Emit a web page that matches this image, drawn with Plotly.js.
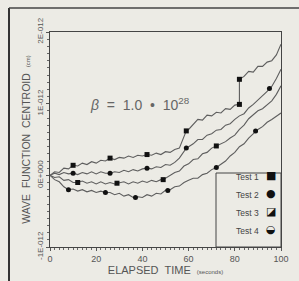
<!DOCTYPE html>
<html><head><meta charset="utf-8">
<script src="https://cdn.plot.ly/plotly-3.0.1.min.js"></script>
<style>html,body{margin:0;padding:0;background:#ecebe5;}</style>
</head><body>
<div id="chart" style="width:299px;height:281px;"></div>
<script>
// Centroid values in units of 1E-012 cm, time in seconds
const t1 = [0,2,4,6,8,10,12,14,16,18,20,22,24,26,28,30,32,34,36,38,40,42,44,46,48,50,52,54,56,58,59,60,62,64,66,68,70,72,74,76,78,80,82,82,84,86,88,90,92,94,96,98,100];
const y1 = [0,0.05,0.04,0.10,0.09,0.14,0.13,0.17,0.15,0.19,0.17,0.21,0.20,0.24,0.22,0.25,0.24,0.27,0.25,0.28,0.27,0.29,0.28,0.31,0.29,0.33,0.32,0.36,0.38,0.55,0.62,0.64,0.71,0.78,0.77,0.84,0.83,0.88,0.87,0.93,0.92,0.98,0.99,1.34,1.38,1.45,1.44,1.52,1.52,1.58,1.60,1.68,1.83];
const t2 = [0,2,4,6,8,10,12,14,16,18,20,22,24,26,28,30,32,34,36,38,40,42,44,46,48,50,52,54,56,58,59,60,62,64,66,68,70,72,74,76,78,80,82,84,86,88,90,92,94,95,96,98,100];
const y2 = [0,0.03,0.01,0.04,0.02,0.03,0.01,0.04,0.02,0.05,0.02,0.05,0.03,0.03,0.05,0.04,0.07,0.05,0.08,0.06,0.09,0.10,0.09,0.12,0.11,0.15,0.14,0.18,0.24,0.33,0.38,0.40,0.44,0.50,0.50,0.56,0.58,0.63,0.64,0.70,0.72,0.78,0.83,0.86,0.94,0.99,1.05,1.10,1.17,1.21,1.24,1.35,1.48];
const t3 = [0,2,4,6,8,10,12,14,16,18,20,22,24,26,28,30,32,34,36,38,40,42,44,46,48,49,50,52,54,56,58,60,62,64,66,68,70,72,74,76,78,80,82,84,86,88,90,92,94,96,98,100];
const y3 = [0,-0.03,-0.02,-0.07,-0.06,-0.10,-0.10,-0.08,-0.11,-0.09,-0.12,-0.09,-0.12,-0.10,-0.12,-0.11,-0.09,-0.12,-0.09,-0.11,-0.08,-0.10,-0.07,-0.09,-0.06,-0.06,-0.04,-0.01,0.04,0.06,0.13,0.16,0.22,0.23,0.30,0.32,0.38,0.41,0.44,0.47,0.52,0.56,0.64,0.70,0.79,0.84,0.90,0.93,0.99,1.04,1.13,1.25];
const t4 = [0,2,4,6,8,10,12,14,16,18,20,22,24,26,28,30,32,34,36,38,40,42,44,46,48,50,52,54,56,58,60,62,64,66,68,70,72,74,76,78,80,82,84,86,88,90,92,94,96,98,100];
const y4 = [0,-0.06,-0.09,-0.16,-0.20,-0.19,-0.22,-0.20,-0.23,-0.21,-0.24,-0.22,-0.24,-0.24,-0.27,-0.25,-0.29,-0.27,-0.31,-0.30,-0.31,-0.27,-0.29,-0.25,-0.26,-0.21,-0.20,-0.16,-0.15,-0.10,-0.07,-0.04,-0.04,0.01,0.03,0.08,0.11,0.15,0.20,0.27,0.32,0.40,0.44,0.52,0.58,0.64,0.68,0.74,0.78,0.83,0.87];

// marked sample points
const m1t = [10,26,42,59,82,82];   const m1y = [0.14,0.24,0.29,0.62,0.99,1.34];
const m2t = [10,26,42,59,95];      const m2y = [0.03,0.03,0.10,0.38,1.21];
const m3t = [12,29,49,72];         const m3y = [-0.10,-0.11,-0.06,0.41];
const m4t = [8,24,37,51,72,89];    const m4y = [-0.20,-0.24,-0.31,-0.21,0.11,0.62];

const testNames = ['Test 1','Test 2','Test 3','Test 4'];
const legendGlyphs = ['\u25A0','\u25CF','\u25EA','\u25D2'];
const yTickVals = [-1,0,1,2];
const yTickText = ['-1E-012','0E+000','1E-012','2E-012'];
const xTickVals = [0,20,40,60,80,100];

const lineStyle = {color:'#5e5e5e', width:1.1};
const lines = [[t1,y1],[t2,y2],[t3,y3],[t4,y4]];
const marks = [[m1t,m1y,'square'],[m2t,m2y,'circle'],[m3t,m3y,'square'],[m4t,m4y,'circle']];

const data = [];
lines.forEach((l,i)=>data.push({x:l[0], y:l[1], mode:'lines', line:lineStyle, name:testNames[i], showlegend:false, hoverinfo:'skip'}));
marks.forEach((m,i)=>data.push({x:m[0], y:m[1], mode:'markers', marker:{symbol:m[2], size:5, color:'#111'}, name:testNames[i], showlegend:false}));

const FONT = 'Liberation Sans, Arial, sans-serif';
const GREY = '#555';

// pixel helpers for paper positions (plot area: left 50, width 231, top 32, height 215)
const px = x => (x-50)/231;
const py = y => (247-y)/215;

const annotations = [
  {xref:'paper', yref:'paper', x:px(140), y:py(93), text:'<i>β</i>  =  1.0  •  10<sup>28</sup>', showarrow:false, font:{family:FONT, size:14, color:'#666'}}
];
const rowY = [184,202,220,238];
testNames.forEach((n,i)=>{
  annotations.push({xref:'paper', yref:'paper', x:px(261), y:py(rowY[i]), xanchor:'right', text:n, showarrow:false, font:{family:FONT, size:8.5, color:'#444'}});
  annotations.push({xref:'paper', yref:'paper', x:px(271), y:py(rowY[i]), xanchor:'center', text:legendGlyphs[i], showarrow:false, font:{family:'DejaVu Sans', size:11, color:'#111'}});
});

const layout = {
  width:299, height:281,
  margin:{l:50, r:18, t:32, b:34},
  paper_bgcolor:'#ecebe5', plot_bgcolor:'#ecebe5',
  showlegend:false,
  font:{family:FONT, color:GREY},
  xaxis:{range:[0,100], showgrid:false, zeroline:false, showline:true, mirror:true, linecolor:'#444', linewidth:1,
    tickvals:xTickVals, ticks:'outside', ticklen:3, tickcolor:'#555', tickfont:{size:9, color:GREY},
    minor:{dtick:2, ticks:'outside', ticklen:2, tickcolor:'#666'},
    title:{text:'ELAPSED  TIME  <span style="font-size:6px">(seconds)</span>', font:{size:11, color:GREY}, standoff:1}},
  yaxis:{range:[-1,2], showgrid:false, zeroline:false, showline:true, mirror:true, linecolor:'#444', linewidth:1,
    tickvals:yTickVals, ticktext:yTickText, tickangle:-90, ticks:'outside', ticklen:3, tickcolor:'#555', tickfont:{size:8, color:GREY},
    minor:{dtick:0.1, ticks:'outside', ticklen:2, tickcolor:'#666'},
    title:{text:'WAVE  FUNCTION  CENTROID  <span style="font-size:6px">(cm)</span>', font:{size:10.5, color:GREY}, standoff:3}},
  shapes:[
    {type:'rect', xref:'paper', yref:'paper', x0:px(216), x1:px(281), y0:py(247), y1:py(173), line:{color:'#444', width:1}},
    {type:'line', xref:'paper', yref:'paper', x0:px(9), x1:px(9), y0:py(8), y1:py(300), line:{color:'#333', width:2}},
    {type:'line', xref:'paper', yref:'paper', x0:px(9), x1:px(320), y0:py(8), y1:py(8), line:{color:'#444', width:1.5}}
  ],
  annotations:annotations
};
Plotly.newPlot('chart', data, layout, {staticPlot:true, displayModeBar:false});
</script>
</body></html>
